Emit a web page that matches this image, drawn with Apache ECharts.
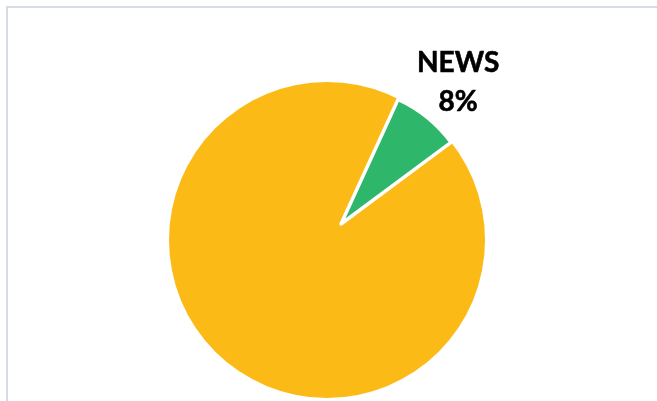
<!DOCTYPE html>
<html>
<head>
<meta charset="utf-8">
<script src="https://cdn.jsdelivr.net/npm/echarts@6/dist/echarts.min.js"></script>
<style>
html,body{margin:0;padding:0;background:#fff;}
#c{width:657px;height:401px;}
</style>
</head>
<body>
<div id="c"></div>
<script>
// Data
const categories = ['NEWS', 'OTHER'];
const values = [8, 92];
const colors = ['#2EB66B', '#FBBA16'];

const chart = echarts.init(document.getElementById('c'), null, {renderer: 'canvas'});

const option = {
  animation: false,
  backgroundColor: '#ffffff',
  graphic: [
    {type: 'rect', shape: {x: 7, y: 7, width: 700, height: 500}, style: {fill: 'none', stroke: '#D6DCE5', lineWidth: 2}, z: 0}
  ],
  series: [
    {
      // exploded main slice, drawn as a full circle behind the small slice
      type: 'pie',
      center: [327, 240],
      radius: 158,
      silent: true,
      label: {show: false},
      labelLine: {show: false},
      data: [
        {name: categories[1], value: values[0] + values[1], itemStyle: {color: colors[1], borderWidth: 0}}
      ],
      z: 1
    },
    {
      type: 'pie',
      center: [341, 224],
      radius: 137,
      startAngle: 65.4,
      clockwise: true,
      silent: true,
      labelLine: {show: false, length: 46, length2: 0},
      labelLayout: {dx: -44, dy: 1},
      data: [
        {
          name: categories[0], value: values[0],
          itemStyle: {color: colors[0], borderColor: '#ffffff', borderWidth: 3.5, borderJoin: 'round'},
          label: {
            show: true,
            position: 'outside',
            formatter: function (p) { return '{a|' + p.name + '}\n{a|' + Math.round(p.percent) + '%}'; },
            rich: {
              a: {fontFamily: 'Lato', fontWeight: 'bold', fontSize: 28, color: '#000000', width: 82, align: 'center', lineHeight: 39,
                  textBorderColor: '#000000', textBorderWidth: 0.6}
            }
          }
        },
        {
          name: categories[1], value: values[1],
          itemStyle: {color: 'rgba(0,0,0,0)', borderWidth: 0},
          label: {show: false}
        }
      ],
      z: 2
    }
  ]
};
chart.setOption(option);
</script>
</body>
</html>
